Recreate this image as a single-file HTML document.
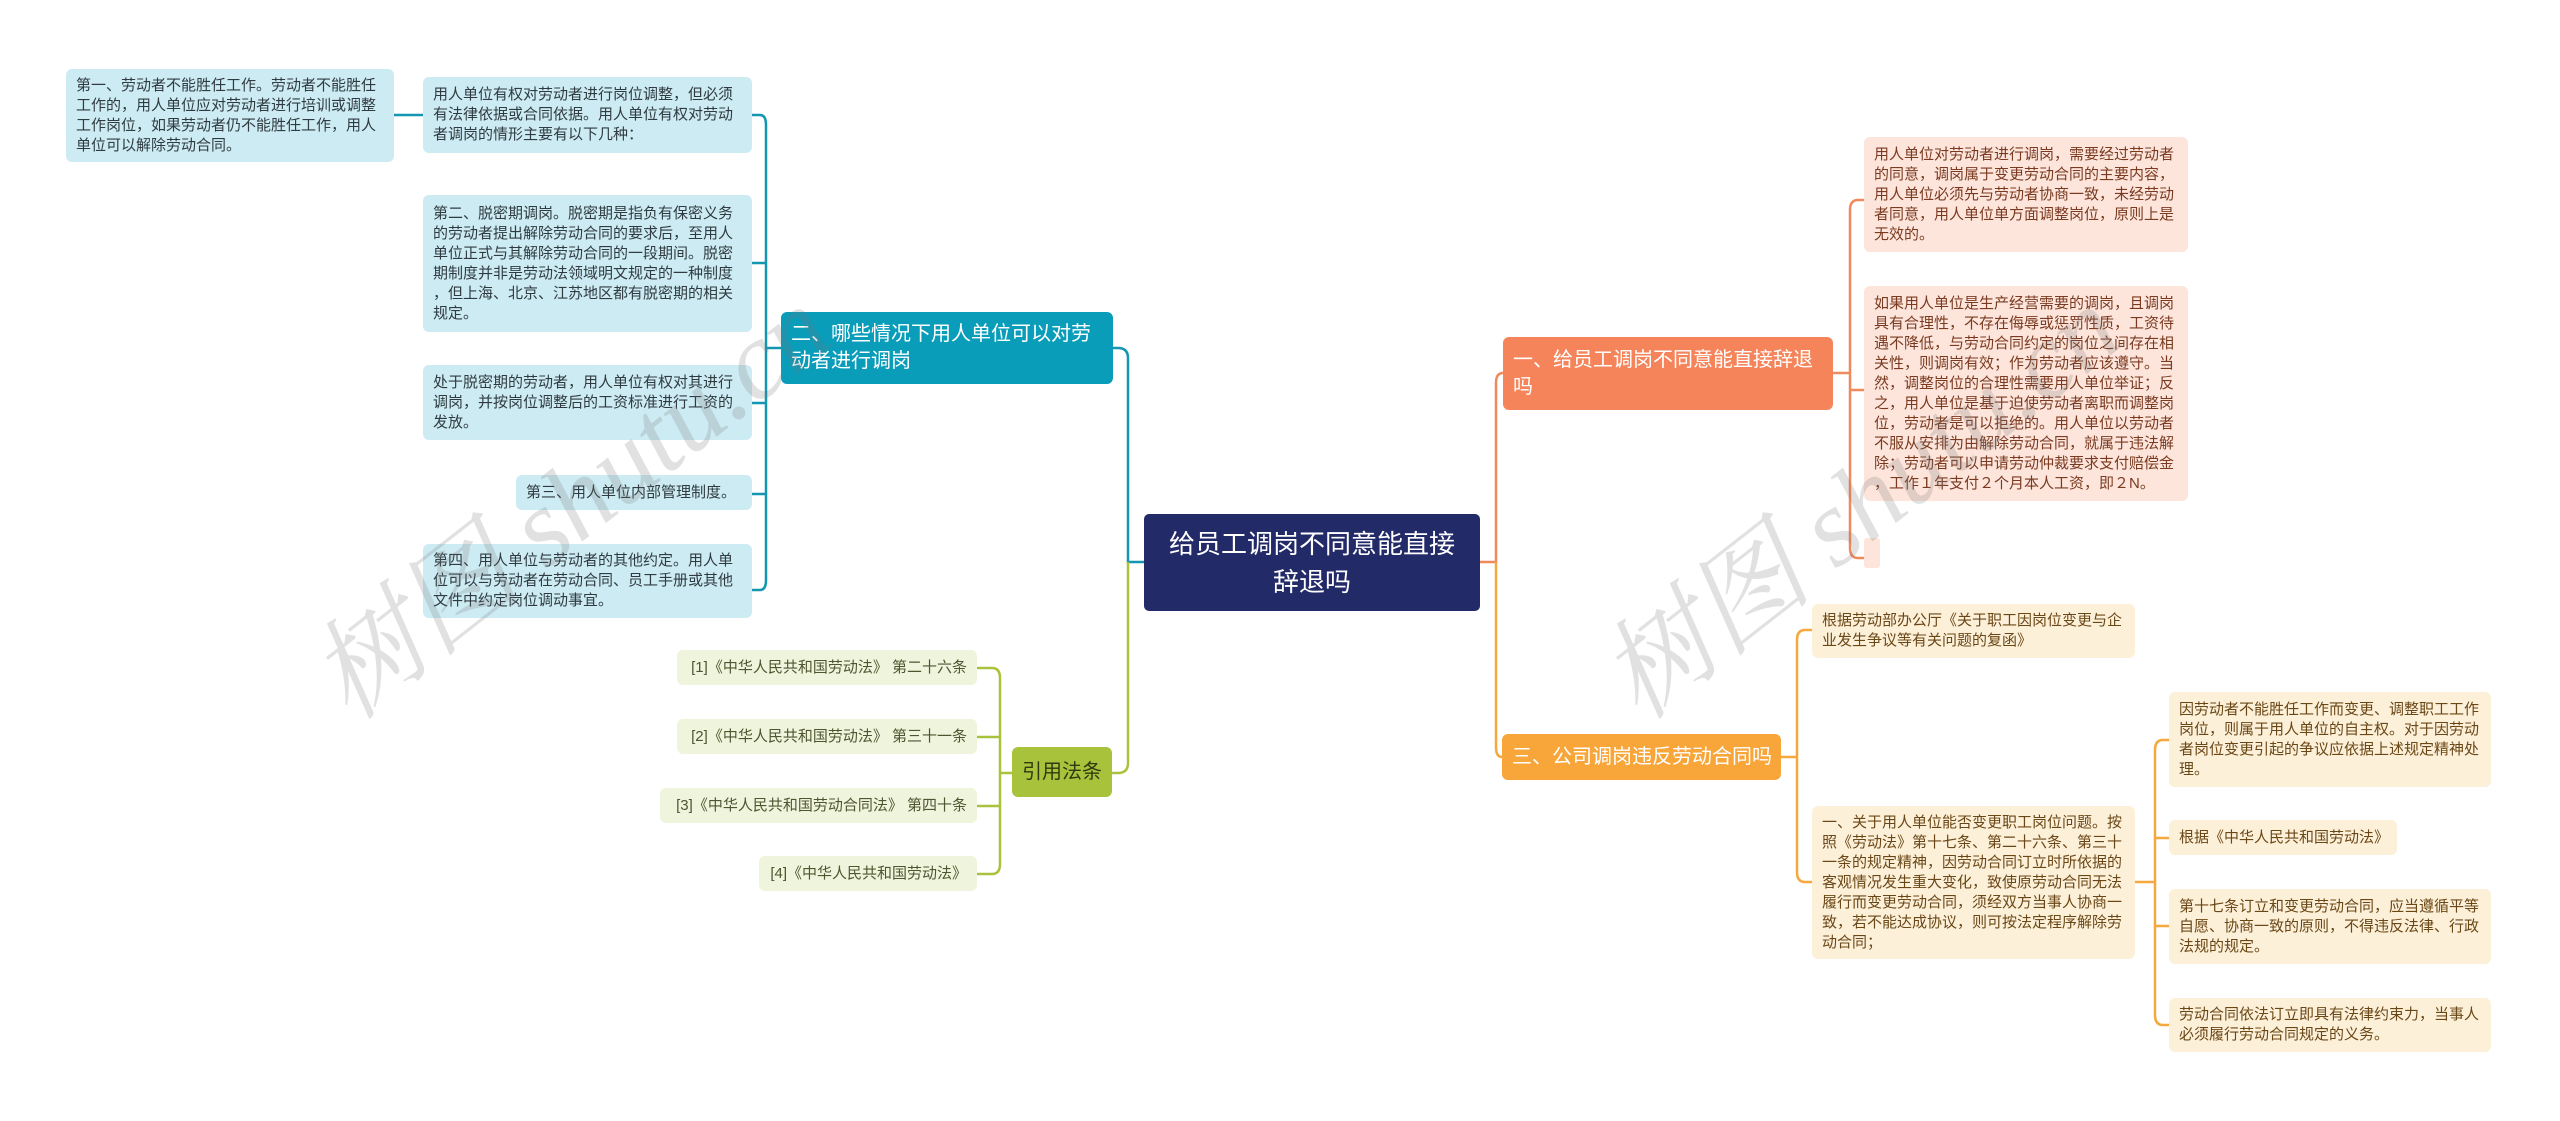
<!DOCTYPE html>
<html><head><meta charset="utf-8">
<style>
html,body{margin:0;padding:0;background:#fff;}
body{width:2560px;height:1121px;position:relative;overflow:hidden;font-family:"Liberation Sans","Noto Sans CJK SC",sans-serif;}
.n{position:absolute;box-sizing:border-box;display:flex;align-items:center;border-radius:6px;white-space:nowrap;font-size:15px;line-height:20px;padding:0 10px;}
.b{background:#cdebf3;color:#2f3b40;}
.p{background:#fde5dc;color:#7a3a20;}
.c{background:#fdf0d9;color:#6a4716;}
.g{background:#eff4dc;color:#4f5530;justify-content:flex-end;}
.br{color:#fff;font-size:20px;line-height:27px;}
svg{position:absolute;left:0;top:0;}
.wm{position:absolute;font-family:"Liberation Serif","Noto Serif CJK SC",serif;font-style:italic;font-size:110px;color:rgba(120,120,120,0.22);white-space:nowrap;transform:rotate(-38deg);transform-origin:left bottom;z-index:5;pointer-events:none;}
</style></head><body>
<svg width="2560" height="1121" fill="none" stroke-width="2.5">
<path d="M1144 562 H1128 V358 Q1128 348 1118 348 H1113" stroke="#1496b0"/>
<path d="M1128 562 V763 Q1128 773 1118 773 H1106" stroke="#a9c23c"/>
<path d="M781 348 H766" stroke="#1496b0"/>
<path d="M752 115 H760 Q766 115 766 125 V580 Q766 590 760 590 H752" stroke="#1496b0"/>
<path d="M766 263 H752 M766 403 H752 M766 494 H752" stroke="#1496b0"/>
<path d="M394 115 H423" stroke="#1496b0"/>
<path d="M1012 773 H1000" stroke="#a9c23c"/>
<path d="M977 668 H992 Q1000 668 1000 678 V864 Q1000 874 992 874 H977" stroke="#a9c23c"/>
<path d="M977 737 H1000 M977 806 H1000" stroke="#a9c23c"/>
<path d="M1480 562 H1496 V383 Q1496 373 1503 373" stroke="#f08a5d"/>
<path d="M1496 562 V747 Q1496 757 1502 757" stroke="#f5a83c"/>
<path d="M1833 373 H1850" stroke="#f08a5d"/>
<path d="M1864 200 H1858 Q1850 200 1850 210 V548 Q1850 558 1858 558 H1864" stroke="#f08a5d"/>
<path d="M1850 390 H1864" stroke="#f08a5d"/>
<path d="M1781 757 H1797" stroke="#f5a83c"/>
<path d="M1812 630 H1805 Q1797 630 1797 640 V872 Q1797 882 1805 882 H1812" stroke="#f5a83c"/>
<path d="M2135 882 H2155" stroke="#f5a83c"/>
<path d="M2169 740 H2163 Q2155 740 2155 750 V1015 Q2155 1025 2163 1025 H2169" stroke="#f5a83c"/>
<path d="M2155 838 H2169 M2155 926 H2169" stroke="#f5a83c"/>
</svg>

<div class="n" style="left:1144px;top:514px;width:336px;height:97px;background:#232a68;color:#fff;font-size:26px;line-height:38px;justify-content:center;text-align:center;border-radius:5px;">给员工调岗不同意能直接<br>辞退吗</div>

<div class="n br" style="left:781px;top:312px;width:332px;height:72px;background:#0a9dba;">二、哪些情况下用人单位可以对劳<br>动者进行调岗</div>
<div class="n br" style="left:1012px;top:747px;width:100px;height:50px;background:#a9c23c;color:#2f3a10;justify-content:center;">引用法条</div>
<div class="n br" style="left:1503px;top:337px;width:330px;height:73px;background:#f6845a;">一、给员工调岗不同意能直接辞退<br>吗</div>
<div class="n br" style="left:1502px;top:734px;width:279px;height:46px;background:#f8a53a;">三、公司调岗违反劳动合同吗</div>

<div class="n b" style="left:66px;top:69px;width:328px;height:93px;">第一、劳动者不能胜任工作。劳动者不能胜任<br>工作的，用人单位应对劳动者进行培训或调整<br>工作岗位，如果劳动者仍不能胜任工作，用人<br>单位可以解除劳动合同。</div>
<div class="n b" style="left:423px;top:77px;width:329px;height:76px;">用人单位有权对劳动者进行岗位调整，但必须<br>有法律依据或合同依据。用人单位有权对劳动<br>者调岗的情形主要有以下几种：</div>
<div class="n b" style="left:423px;top:195px;width:329px;height:137px;">第二、脱密期调岗。脱密期是指负有保密义务<br>的劳动者提出解除劳动合同的要求后，至用人<br>单位正式与其解除劳动合同的一段期间。脱密<br>期制度并非是劳动法领域明文规定的一种制度<br>，但上海、北京、江苏地区都有脱密期的相关<br>规定。</div>
<div class="n b" style="left:423px;top:365px;width:329px;height:75px;">处于脱密期的劳动者，用人单位有权对其进行<br>调岗，并按岗位调整后的工资标准进行工资的<br>发放。</div>
<div class="n b" style="left:516px;top:475px;width:236px;height:35px;">第三、用人单位内部管理制度。</div>
<div class="n b" style="left:423px;top:544px;width:329px;height:74px;">第四、用人单位与劳动者的其他约定。用人单<br>位可以与劳动者在劳动合同、员工手册或其他<br>文件中约定岗位调动事宜。</div>

<div class="n g" style="left:677px;top:650px;width:300px;height:35px;">[1]《中华人民共和国劳动法》 第二十六条</div>
<div class="n g" style="left:677px;top:719px;width:300px;height:35px;">[2]《中华人民共和国劳动法》 第三十一条</div>
<div class="n g" style="left:660px;top:788px;width:317px;height:35px;">[3]《中华人民共和国劳动合同法》 第四十条</div>
<div class="n g" style="left:759px;top:856px;width:218px;height:35px;">[4]《中华人民共和国劳动法》</div>

<div class="n p" style="left:1864px;top:137px;width:324px;height:115px;">用人单位对劳动者进行调岗，需要经过劳动者<br>的同意，调岗属于变更劳动合同的主要内容，<br>用人单位必须先与劳动者协商一致，未经劳动<br>者同意，用人单位单方面调整岗位，原则上是<br>无效的。</div>
<div class="n p" style="left:1864px;top:286px;width:324px;height:215px;">如果用人单位是生产经营需要的调岗，且调岗<br>具有合理性，不存在侮辱或惩罚性质，工资待<br>遇不降低，与劳动合同约定的岗位之间存在相<br>关性，则调岗有效；作为劳动者应该遵守。当<br>然，调整岗位的合理性需要用人单位举证；反<br>之，用人单位是基于迫使劳动者离职而调整岗<br>位，劳动者是可以拒绝的。用人单位以劳动者<br>不服从安排为由解除劳动合同，就属于违法解<br>除；劳动者可以申请劳动仲裁要求支付赔偿金<br>，工作１年支付２个月本人工资，即２N。</div>
<div class="n p" style="left:1864px;top:538px;width:16px;height:30px;padding:0;border-radius:3px;"></div>

<div class="n c" style="left:1812px;top:604px;width:323px;height:54px;">根据劳动部办公厅《关于职工因岗位变更与企<br>业发生争议等有关问题的复函》</div>
<div class="n c" style="left:1812px;top:806px;width:323px;height:153px;">一、关于用人单位能否变更职工岗位问题。按<br>照《劳动法》第十七条、第二十六条、第三十<br>一条的规定精神，因劳动合同订立时所依据的<br>客观情况发生重大变化，致使原劳动合同无法<br>履行而变更劳动合同，须经双方当事人协商一<br>致，若不能达成协议，则可按法定程序解除劳<br>动合同；</div>
<div class="n c" style="left:2169px;top:692px;width:322px;height:95px;">因劳动者不能胜任工作而变更、调整职工工作<br>岗位，则属于用人单位的自主权。对于因劳动<br>者岗位变更引起的争议应依据上述规定精神处<br>理。</div>
<div class="n c" style="left:2169px;top:820px;width:228px;height:35px;">根据《中华人民共和国劳动法》</div>
<div class="n c" style="left:2169px;top:889px;width:322px;height:75px;">第十七条订立和变更劳动合同，应当遵循平等<br>自愿、协商一致的原则，不得违反法律、行政<br>法规的规定。</div>
<div class="n c" style="left:2169px;top:998px;width:322px;height:54px;">劳动合同依法订立即具有法律约束力，当事人<br>必须履行劳动合同规定的义务。</div>

<div class="wm" style="left:370px;top:590px;">树图 shutu.cn</div>
<div class="wm" style="left:1660px;top:590px;">树图 shutu.cn</div>
</body></html>
